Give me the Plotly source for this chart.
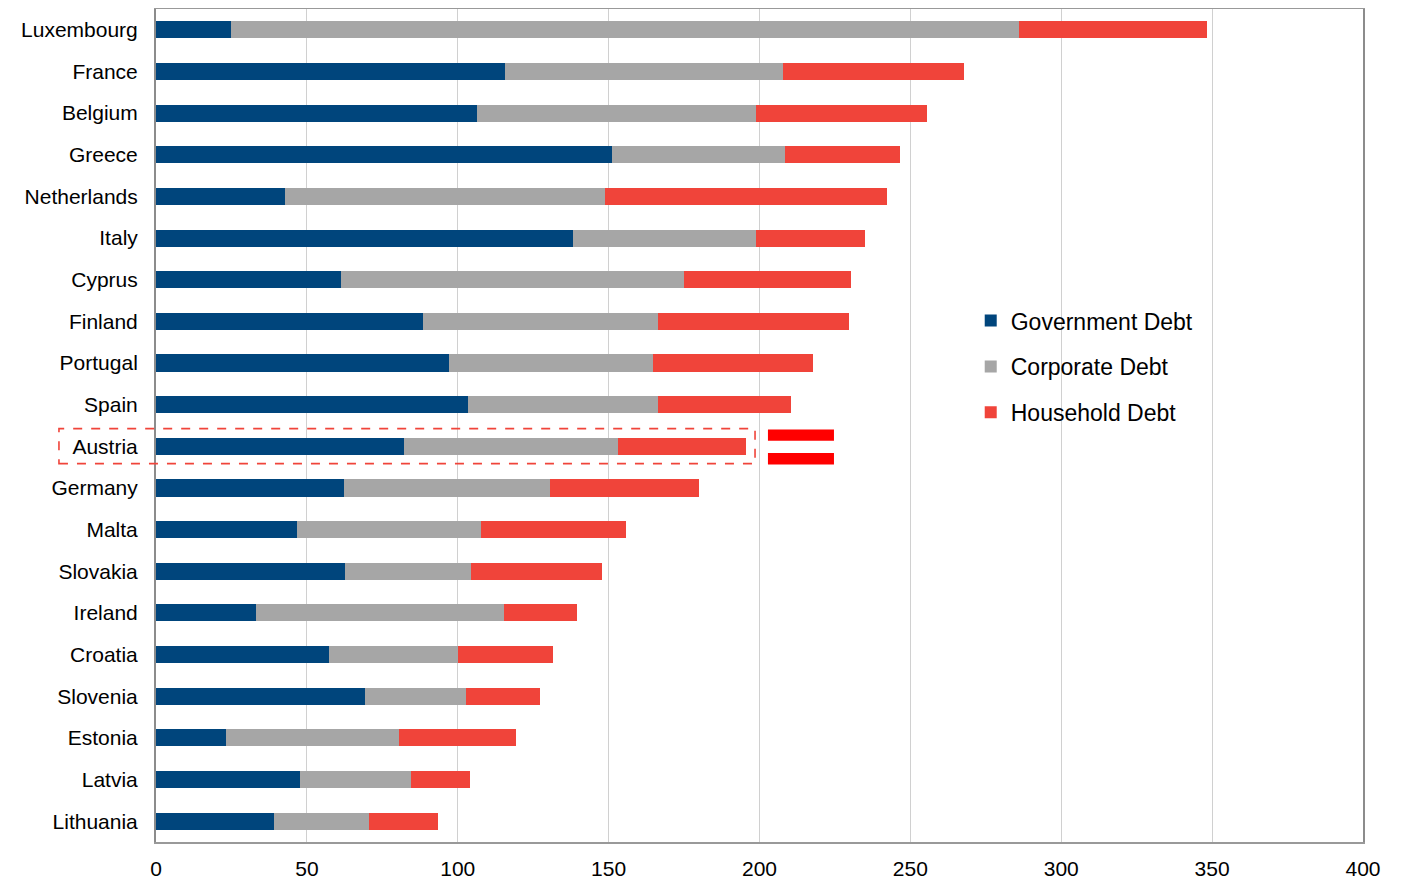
import plotly.graph_objects as go

countries = ["Luxembourg", "France", "Belgium", "Greece", "Netherlands", "Italy", "Cyprus",
             "Finland", "Portugal", "Spain", "Austria", "Germany", "Malta", "Slovakia",
             "Ireland", "Croatia", "Slovenia", "Estonia", "Latvia", "Lithuania"]
government_debt = [24.9, 115.7, 106.4, 151.1, 42.8, 138.2, 61.3, 88.5, 97.1, 103.4,
                   82.2, 62.3, 46.7, 62.6, 33.1, 57.3, 69.3, 23.2, 47.7, 39.1]
corporate_debt = [261.1, 92.1, 92.4, 57.4, 106.0, 60.6, 113.7, 77.9, 67.6, 63.0,
                  70.9, 68.3, 61.0, 41.8, 82.2, 42.8, 33.4, 57.3, 36.8, 31.5]
household_debt = [62.3, 60.0, 56.7, 38.1, 93.5, 36.2, 55.3, 63.3, 53.0, 44.0,
                  42.4, 49.4, 48.1, 43.4, 24.2, 31.5, 24.6, 38.8, 19.6, 22.9]
x_ticks = [0, 50, 100, 150, 200, 250, 300, 350, 400]

series = [
    ("Government Debt", government_debt, "#00457C"),
    ("Corporate Debt", corporate_debt, "#A6A6A6"),
    ("Household Debt", household_debt, "#F0443A"),
]

fig = go.Figure()
for i, (name, vals, col) in enumerate(series):
    fig.add_trace(go.Bar(
        y=countries, x=vals, name=name, orientation="h",
        marker=dict(color=col, line=dict(width=0)),
        legendgroup=f"g{i}",
    ))

FONT = "Liberation Sans, Arial, sans-serif"

fig.update_layout(
    width=1394, height=874,
    margin=dict(l=148, r=39, t=1, b=40, autoexpand=False),
    barmode="stack", bargap=0.59,
    plot_bgcolor="white", paper_bgcolor="white",
    font=dict(family=FONT, size=21, color="black"),
    showlegend=True,
    legend=dict(
        x=0.675, xanchor="left", y=0.5707, yanchor="middle",
        font=dict(family=FONT, size=23, color="black"),
        traceorder="grouped", tracegroupgap=13,
        bgcolor="rgba(0,0,0,0)",
    ),
    xaxis=dict(
        range=[0, 400], tickvals=x_ticks, ticktext=[str(v) for v in x_ticks],
        showgrid=True, gridcolor="#D0D0D0", gridwidth=1,
        showline=True, linecolor="#999999", linewidth=2, mirror=True,
        zeroline=False, ticks="", ticklabelstandoff=7,
        tickfont=dict(family=FONT, size=21, color="black"),
    ),
    yaxis=dict(
        categoryorder="array", categoryarray=countries, autorange="reversed",
        showgrid=False, showline=True, linecolor="#8C8C8C", linewidth=2, mirror=True,
        ticks="", ticklabelstandoff=12,
        tickfont=dict(family=FONT, size=21, color="black"),
    ),
)

# dashed highlight box around Austria
fig.add_shape(type="rect", xref="paper", yref="paper",
              x0=-0.0804, x1=0.4963, y0=0.4542, y1=0.4963,
              line=dict(color="#F0443A", width=1.6, dash="dash"),
              fillcolor="rgba(0,0,0,0)", layer="above")
# "=" marker next to Austria
fig.add_shape(type="rect", xref="paper", yref="paper",
              x0=0.507, x1=0.5617, y0=0.4817, y1=0.4953,
              line=dict(width=0), fillcolor="#FF0000")
fig.add_shape(type="rect", xref="paper", yref="paper",
              x0=0.507, x1=0.5617, y0=0.4532, y1=0.4670,
              line=dict(width=0), fillcolor="#FF0000")

fig.write_html("out.html")
